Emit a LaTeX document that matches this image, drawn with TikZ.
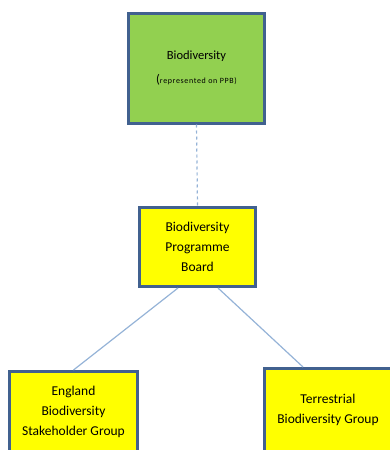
\documentclass[tikz,border=0pt]{standalone}
\usepackage{fontspec}
\setmainfont{Carlito}
\usetikzlibrary{calc}

\definecolor{leafgreen}{HTML}{92D050}
\definecolor{boxyellow}{HTML}{FFFF00}
\definecolor{boxedge}{HTML}{41618F}
\definecolor{linkblue}{HTML}{95B3D7}

\tikzset{
  orgbox/.style={draw=boxedge, line width=3pt, rectangle, align=center,
    inner sep=2pt, font=\fontsize{13.5}{20}\selectfont, text=black},
  link/.style={draw=linkblue, line width=1.2pt},
  dashlink/.style={link, dash pattern=on 3pt off 3pt}
}

\begin{document}
\begin{tikzpicture}[x=1pt, y=-1pt]
  \useasboundingbox (0,0) rectangle (390,450);
  \clip (0,0) rectangle (390,450);

  % Top: biodiversity representation on the PPB
  \node[orgbox, fill=leafgreen, minimum width=136pt, minimum height=110pt]
    (bio) at (196.5,68)
    {{\fontsize{12.5}{12.5}\selectfont Biodiversity}\\[4pt]%
     {\fontsize{12.5}{12.5}\selectfont(}{\fontsize{8}{9}\selectfont\addfontfeature{LetterSpace=8}represented on PPB)}};

  % Programme board
  \node[orgbox, fill=boxyellow, minimum width=116pt, minimum height=79pt]
    (bpb) at (197.5,247) {Biodiversity\\Programme\\Board};

  % Groups reporting to the board
  \node[orgbox, fill=boxyellow, minimum width=128pt, minimum height=81pt]
    (ebs) at (73.5,412) {England\\Biodiversity\\Stakeholder Group};
  \node[orgbox, fill=boxyellow, minimum width=127pt, minimum height=83pt]
    (tbg) at (328,410) {Terrestrial\\Biodiversity Group};

  % Connectors
  \draw[dashlink] (bio.south) -- (bpb.north);
  \coordinate (bl) at ($(bpb.south)+(-19.5,0)$);
  \coordinate (br) at ($(bpb.south)+(20.5,0)$);
  \coordinate (tr) at ($(tbg.north)+(-25,0)$);
  \draw[link] (bl) -- (ebs.north);
  \draw[link] (br) -- (tr);
\end{tikzpicture}
\end{document}
